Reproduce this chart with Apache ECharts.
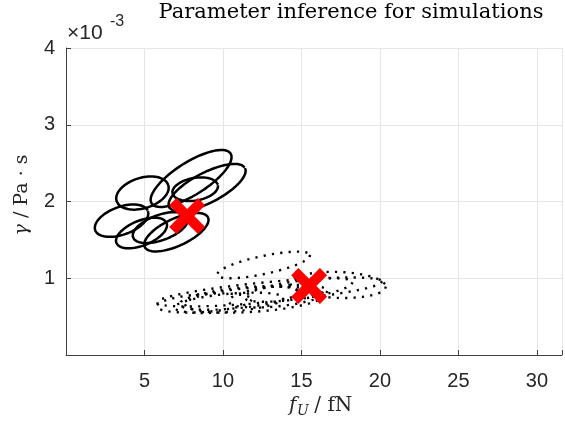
<!DOCTYPE html>
<html>
<head>
<meta charset="utf-8">
<script src="https://cdn.jsdelivr.net/npm/echarts@6/dist/echarts.min.js"></script>
<style>
html,body{margin:0;padding:0;background:#fff;}
#chart{width:565px;height:421px;}
</style>
</head>
<body>
<div id="chart"></div>
<script>
// Axis ticks
const xTicks = [5, 10, 15, 20, 25, 30];
const yTicks = [1, 2, 3, 4];           // gamma in units of 1e-3 Pa*s

// Solid ellipses (real data fits): centre [fU, gamma(1e-3)], semi-axis vectors
const solidCenters = [[7.97,2.30],[8.99,2.18],[8.23,2.16],[4.87,2.11],[3.54,1.75],[4.81,1.59],[6.01,1.66],[7.03,1.60]];
const solidMajor   = [[2.52,0.325],[2.42,0.255],[1.45,0.052],[1.65,0.103],[1.68,0.125],[1.60,0.132],[1.74,0.129],[2.02,0.193]];
const solidMinor   = [[0.55,-0.18],[0.43,-0.175],[0.125,-0.145],[0.28,-0.19],[0.30,-0.17],[0.30,-0.15],[0.27,-0.155],[0.37,-0.16]];

// Dotted ellipses (simulation fits)
const dottedCenters = [[12.59,1.173],[12.97,0.821],[17.34,0.913],[8.80,0.678],[11.01,0.743],[14.81,0.847],[10.4,0.680],[13.5,0.766],[12.0,0.72]];
const dottedMajor   = [[2.97,0.130],[7.18,0.137],[3.04,-0.022],[3.03,0.044],[3.78,0.082],[3.45,0.100],[3.48,0.063],[3.15,0.068],[4.43,0.064]];
const dottedMinor   = [[0.118,-0.115],[0.058,-0.130],[-0.029,-0.169],[0.040,-0.117],[0.066,-0.130],[0.079,-0.116],[0.05,-0.117],[0.066,-0.13],[0.053,-0.156]];

// True parameters (red crosses)
const truthX = [7.72, 15.49];
const truthY = [1.81, 0.90];

function ellipse(c, u, v) {
  const pts = [];
  const n = 140;
  for (let i = 0; i <= n; i++) {
    const t = 2 * Math.PI * i / n;
    pts.push([c[0] + u[0]*Math.cos(t) + v[0]*Math.sin(t), c[1] + u[1]*Math.cos(t) + v[1]*Math.sin(t)]);
  }
  return pts;
}

const series = [];
solidCenters.forEach((c, i) => {
  series.push({type:'line', data: ellipse(c, solidMajor[i], solidMinor[i]), showSymbol:false, symbol:'none',
    lineStyle:{color:'#000', width:2.5}, silent:true, animation:false, z:2});
});
dottedCenters.forEach((c, i) => {
  series.push({type:'line', data: ellipse(c, dottedMajor[i], dottedMinor[i]), showSymbol:false, symbol:'none',
    lineStyle:{color:'#000', width:2.4, type:[2.2, 6.2]}, silent:true, animation:false, z:2});
});
series.push({type:'scatter', data: truthX.map((x,i)=>[x, truthY[i]]),
  symbol:'path://M4,0 L10,6 L16,0 L20,4 L14,10 L20,16 L16,20 L10,14 L4,20 L0,16 L6,10 L0,4 Z',
  symbolSize:36, itemStyle:{color:'#ff0000', opacity:1}, silent:true, animation:false, z:5});

const tickFont = {fontFamily:'Liberation Sans, Arial, sans-serif', fontSize:20, color:'#262626'};
const axisCol = '#404040';

const chart = echarts.init(document.getElementById('chart'), null, {renderer:'canvas'});
chart.setOption({
  animation:false,
  backgroundColor:'#fff',
  grid:{left:66, right:0, top:48, bottom:66, containLabel:false},
  xAxis:{type:'value', min:0, max:31.6, interval:5,
    axisLine:{show:true, lineStyle:{color:axisCol, width:1}},
    axisTick:{show:true, inside:true, length:5, lineStyle:{color:axisCol}},
    splitLine:{show:true, lineStyle:{color:'#e6e6e6', width:1}},
    axisLabel:Object.assign({margin:16, formatter:v => xTicks.indexOf(v) >= 0 ? String(v) : ''}, tickFont)},
  yAxis:{type:'value', min:0, max:4, interval:1,
    axisLine:{show:true, lineStyle:{color:axisCol, width:1}},
    axisTick:{show:true, inside:true, length:5, lineStyle:{color:axisCol}},
    splitLine:{show:true, lineStyle:{color:'#e6e6e6', width:1}},
    axisLabel:Object.assign({margin:11, formatter:v => yTicks.indexOf(v) >= 0 ? String(v) : ''}, tickFont)},
  series: series,
  graphic:[
    {type:'text', x:351, y:13, style:{text:'Parameter inference for simulations', font:'21px "DejaVu Serif", serif', fill:'#000', align:'center', verticalAlign:'middle'}},
    {type:'text', x:67, y:33, style:{text:'\u00d710', font:'21px "Liberation Sans", Arial, sans-serif', fill:'#262626', align:'left', verticalAlign:'middle'}},
    {type:'text', x:110, y:22, style:{text:'-3', font:'16px "Liberation Sans", Arial, sans-serif', fill:'#262626', align:'left', verticalAlign:'middle'}},
    {type:'text', x:22, y:195, rotation:Math.PI/2, style:{text:'{g|\u03b3} / Pa \u00b7 s', font:'19px "DejaVu Serif", serif', fill:'#262626', align:'center', verticalAlign:'middle',
      rich:{g:{fontFamily:'DejaVu Serif', fontStyle:'italic', fontSize:19, fill:'#262626'}}}},
    {type:'text', x:289, y:406, style:{text:'f', font:'italic 20px "DejaVu Serif", serif', fill:'#262626', align:'left', verticalAlign:'middle'}},
    {type:'text', x:297, y:411, style:{text:'U', font:'italic 14px "DejaVu Serif", serif', fill:'#262626', align:'left', verticalAlign:'middle'}},
    {type:'text', x:308, y:406, style:{text:' / fN', font:'20px "DejaVu Serif", serif', fill:'#262626', align:'left', verticalAlign:'middle'}}
  ]
});
</script>
</body>
</html>
